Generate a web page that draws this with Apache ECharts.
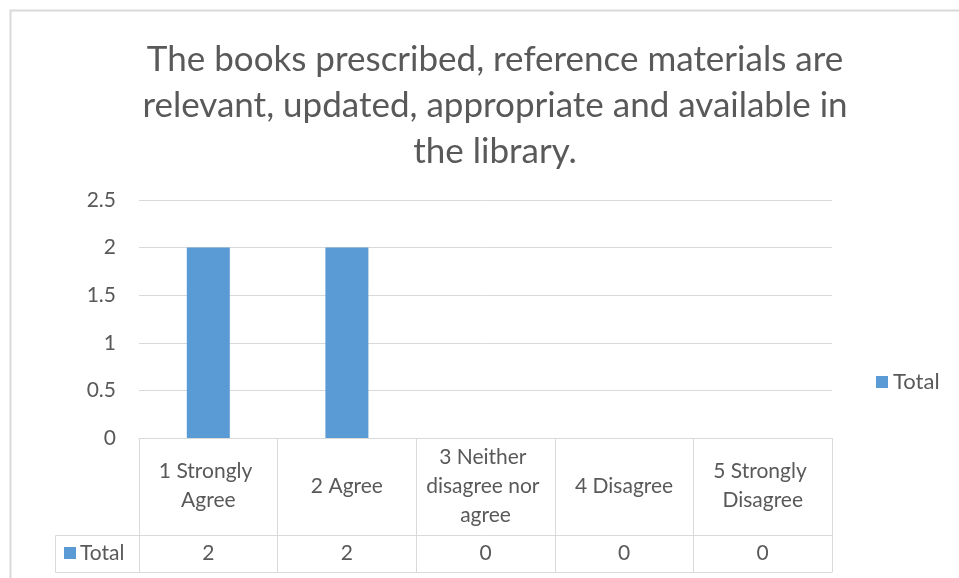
<!DOCTYPE html>
<html>
<head>
<meta charset="utf-8">
<script src="https://cdn.jsdelivr.net/npm/echarts@6/dist/echarts.min.js"></script>
<style>
  html, body { margin: 0; padding: 0; background: #fff; }
  #main { width: 959px; height: 578px; }
</style>
</head>
<body>
<div id="main"></div>
<script>
// 数据
var categories = ['1 Strongly Agree', '2 Agree', '3 Neither disagree nor agree', '4 Disagree', '5 Strongly Disagree'];
var totals = [2, 2, 0, 0, 0];
var seriesName = 'Total';
var titleText = 'The books prescribed, reference materials are\nrelevant, updated, appropriate and available in\nthe library.';

var font = 'Lato, "Open Sans", sans-serif';
var textColor = '#595959';
var lineColor = '#d9d9d9';
var barColor = '#5b9bd5';

var myChart = echarts.init(document.getElementById('main'));

var option = {
  animation: false,
  title: {
    text: titleText,
    left: 490,
    top: 32,
    textAlign: 'center',
    textStyle: {
      fontFamily: font,
      fontSize: 35,
      fontWeight: 'normal',
      color: textColor,
      lineHeight: 46
    }
  },
  legend: {
    data: [seriesName],
    left: 871,
    top: 366,
    icon: 'rect',
    itemWidth: 12,
    itemHeight: 12,
    textStyle: { fontFamily: font, fontSize: 22, color: textColor }
  },
  grid: { left: 139, right: 127, top: 200, bottom: 140 },
  xAxis: [
    {
      type: 'category',
      position: 'bottom',
      data: categories,
      axisLine: { show: true, lineStyle: { color: lineColor, width: 1 } },
      axisTick: { show: true, interval: 0, length: 134, lineStyle: { color: lineColor, width: 1 } },
      axisLabel: {
        interval: 0,
        margin: 48,
        verticalAlign: 'middle',
        width: 128,
        overflow: 'break',
        lineHeight: 29,
        fontFamily: font,
        fontSize: 21,
        color: textColor
      }
    },
    {
      // 数据表的 Total 行
      type: 'category',
      position: 'bottom',
      offset: 97,
      data: categories,
      axisLine: { show: true, lineStyle: { color: lineColor, width: 1 } },
      axisTick: { show: false },
      axisLabel: {
        interval: 0,
        margin: 18,
        verticalAlign: 'middle',
        fontFamily: font,
        fontSize: 21,
        color: textColor,
        formatter: function (v, i) { return String(totals[i]); }
      }
    },
    {
      type: 'category',
      position: 'bottom',
      offset: 134,
      data: categories,
      axisLine: { show: true, lineStyle: { color: lineColor, width: 1 } },
      axisTick: { show: false },
      axisLabel: { show: false }
    }
  ],
  yAxis: {
    type: 'value',
    min: 0,
    max: 2.5,
    interval: 0.5,
    axisLine: { show: false },
    axisTick: { show: false },
    splitLine: { lineStyle: { color: lineColor, width: 1 } },
    axisLabel: { margin: 23, fontFamily: font, fontSize: 21, color: textColor }
  },
  series: [
    {
      name: seriesName,
      type: 'bar',
      xAxisIndex: 0,
      data: totals,
      barWidth: 43,
      itemStyle: { color: barColor }
    }
  ],
  graphic: [
    // 图表外框
    { type: 'rect', silent: true, shape: { x: 10.5, y: 10.5, width: 960, height: 580 },
      style: { fill: null, stroke: lineColor, lineWidth: 2 } },
    // 数据表左侧图例单元格
    { type: 'polyline', silent: true, shape: { points: [[139, 535.5], [55.5, 535.5], [55.5, 572.5], [139, 572.5]] },
      style: { fill: null, stroke: lineColor, lineWidth: 1 } },
    { type: 'rect', silent: true, shape: { x: 64, y: 547, width: 12, height: 12 }, style: { fill: barColor } },
    { type: 'text', silent: true, x: 80, y: 553,
      style: { text: seriesName, fontFamily: font, fontSize: 21, fill: textColor, verticalAlign: 'middle' } }
  ]
};

myChart.setOption(option);
</script>
</body>
</html>
